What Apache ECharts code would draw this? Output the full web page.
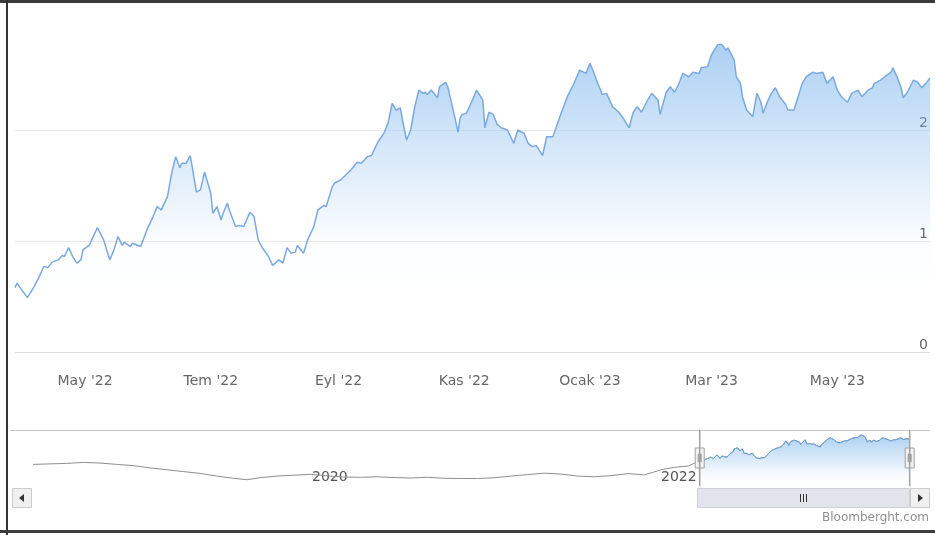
<!DOCTYPE html>
<html>
<head>
<meta charset="utf-8">
<script src="https://cdn.jsdelivr.net/npm/echarts@6/dist/echarts.min.js"></script>
<style>
  html, body { margin: 0; padding: 0; background: #fff; }
  #chart { width: 935px; height: 535px; }
</style>
</head>
<body>
<div id="chart"></div>
<script>
// navigator history (before the zoomed window)
var histDates = ['2018-06-04','2018-07-09','2018-08-13','2018-09-17','2018-10-22','2018-11-26','2018-12-31',
  '2019-02-04','2019-03-11','2019-04-15','2019-05-20','2019-06-24','2019-07-29','2019-08-26','2019-09-23',
  '2019-10-28','2019-12-02','2020-01-06','2020-02-10','2020-03-16','2020-04-20','2020-05-25','2020-06-29',
  '2020-08-03','2020-09-07','2020-10-12','2020-11-16','2020-12-21','2021-01-25','2021-03-01','2021-04-05',
  '2021-05-10','2021-06-14','2021-07-19','2021-08-23','2021-09-27','2021-11-01','2021-12-06','2022-01-10',
  '2022-02-07','2022-03-07','2022-03-21'];
var histValues = [0.34,0.38,0.42,0.50,0.45,0.34,0.24,
  0.05,-0.10,-0.25,-0.40,-0.62,-0.80,-0.92,-0.75,
  -0.62,-0.55,-0.48,-0.60,-0.70,-0.72,-0.68,-0.74,
  -0.78,-0.72,-0.80,-0.82,-0.82,-0.76,-0.62,-0.50,
  -0.38,-0.46,-0.62,-0.68,-0.58,-0.42,-0.52,-0.10,
  0.10,0.20,0.45];

// zoomed window
var dates = ['2022-03-28','2022-03-29','2022-04-01','2022-04-03','2022-04-06','2022-04-08','2022-04-11','2022-04-13',
  '2022-04-15','2022-04-18','2022-04-20','2022-04-21','2022-04-23','2022-04-25','2022-04-27','2022-04-29',
  '2022-04-30','2022-05-03','2022-05-07','2022-05-10','2022-05-13','2022-05-15','2022-05-17','2022-05-19',
  '2022-05-20','2022-05-23','2022-05-24','2022-05-28','2022-05-31','2022-06-03','2022-06-05','2022-06-07',
  '2022-06-10','2022-06-12','2022-06-14','2022-06-16','2022-06-17','2022-06-19','2022-06-21','2022-06-22',
  '2022-06-24','2022-06-26','2022-06-28','2022-07-01','2022-07-02','2022-07-04','2022-07-06','2022-07-07',
  '2022-07-09','2022-07-10','2022-07-13','2022-07-15','2022-07-17','2022-07-20','2022-07-22','2022-07-24',
  '2022-07-26','2022-07-29','2022-07-31','2022-08-03','2022-08-05','2022-08-07','2022-08-09','2022-08-11',
  '2022-08-12','2022-08-15','2022-08-17','2022-08-20','2022-08-22','2022-08-25','2022-08-26','2022-08-29',
  '2022-08-30','2022-09-02','2022-09-07','2022-09-10','2022-09-12','2022-09-15','2022-09-17','2022-09-20',
  '2022-09-23','2022-09-25','2022-09-27','2022-09-29','2022-10-01','2022-10-02','2022-10-04','2022-10-06',
  '2022-10-08','2022-10-10','2022-10-12','2022-10-13','2022-10-14','2022-10-16','2022-10-19','2022-10-20',
  '2022-10-23','2022-10-24','2022-10-27','2022-10-29','2022-10-30','2022-10-31','2022-11-02','2022-11-05',
  '2022-11-07','2022-11-10','2022-11-11','2022-11-13','2022-11-15','2022-11-17','2022-11-19','2022-11-22',
  '2022-11-25','2022-11-27','2022-11-30','2022-12-02','2022-12-04','2022-12-06','2022-12-09','2022-12-11',
  '2022-12-14','2022-12-18','2022-12-21','2022-12-24','2022-12-27','2022-12-30','2023-01-01','2023-01-03',
  '2023-01-05','2023-01-07','2023-01-09','2023-01-12','2023-01-15','2023-01-17','2023-01-20','2023-01-22',
  '2023-01-24','2023-01-26','2023-01-29','2023-01-31','2023-02-03','2023-02-04','2023-02-07','2023-02-09',
  '2023-02-11','2023-02-13','2023-02-15','2023-02-18','2023-02-20','2023-02-23','2023-02-24','2023-02-27',
  '2023-03-01','2023-03-04','2023-03-06','2023-03-08','2023-03-09','2023-03-12','2023-03-13','2023-03-15',
  '2023-03-16','2023-03-18','2023-03-21','2023-03-23','2023-03-25','2023-03-26','2023-03-28','2023-03-30',
  '2023-04-01','2023-04-03','2023-04-06','2023-04-07','2023-04-10','2023-04-12','2023-04-14','2023-04-16',
  '2023-04-19','2023-04-21','2023-04-24','2023-04-26','2023-04-29','2023-05-01','2023-05-03','2023-05-06',
  '2023-05-08','2023-05-11','2023-05-13','2023-05-16','2023-05-18','2023-05-19','2023-05-22','2023-05-24',
  '2023-05-27','2023-05-28','2023-05-30','2023-06-01','2023-06-02','2023-06-04','2023-06-07','2023-06-09',
  '2023-06-11','2023-06-13','2023-06-15'];
var values = [0.58,0.62,0.54,0.49,0.58,0.65,0.77,0.76,
  0.81,0.83,0.87,0.86,0.94,0.86,0.80,0.83,
  0.92,0.96,1.12,1.01,0.83,0.92,1.04,0.96,
  0.99,0.95,0.98,0.95,1.10,1.22,1.31,1.28,
  1.40,1.61,1.76,1.66,1.70,1.70,1.77,1.67,
  1.44,1.46,1.62,1.43,1.25,1.31,1.19,1.25,
  1.34,1.28,1.13,1.14,1.13,1.26,1.22,1.01,
  0.94,0.86,0.78,0.83,0.80,0.94,0.89,0.90,
  0.96,0.89,1.01,1.13,1.28,1.32,1.31,1.49,
  1.52,1.55,1.64,1.71,1.70,1.76,1.77,1.89,
  1.97,2.06,2.24,2.18,2.20,2.09,1.91,2.00,
  2.21,2.36,2.33,2.34,2.32,2.36,2.29,2.39,
  2.43,2.39,2.15,1.98,2.11,2.14,2.15,2.27,
  2.36,2.27,2.02,2.16,2.14,2.05,2.02,2.00,
  1.88,2.00,1.97,1.88,1.85,1.86,1.77,1.94,
  1.94,2.15,2.30,2.41,2.54,2.51,2.60,2.51,
  2.41,2.32,2.33,2.21,2.16,2.11,2.02,2.16,
  2.21,2.16,2.27,2.33,2.27,2.14,2.34,2.39,
  2.34,2.41,2.51,2.48,2.52,2.51,2.56,2.57,
  2.68,2.77,2.77,2.72,2.74,2.63,2.48,2.42,
  2.30,2.18,2.12,2.33,2.25,2.15,2.25,2.33,
  2.38,2.30,2.23,2.18,2.18,2.30,2.42,2.48,
  2.52,2.51,2.52,2.42,2.48,2.36,2.30,2.25,
  2.33,2.36,2.30,2.36,2.38,2.42,2.45,2.48,
  2.52,2.56,2.48,2.38,2.29,2.34,2.45,2.43,
  2.38,2.42,2.47];

var tickDates = ['2022-05-01','2022-07-01','2022-09-01','2022-11-01','2023-01-01','2023-03-01','2023-05-01'];
var tickLabels = ["May '22","Tem '22","Eyl '22","Kas '22","Ocak '23","Mar '23","May '23"];
var navTickDates = ['2020-01-01','2022-01-01'];
var navTickLabels = ['2020','2022'];

function parseDay(s) {
  var p = s.split('-');
  return Date.UTC(+p[0], +p[1] - 1, +p[2]);
}
function pairs(ds, vs) {
  return ds.map(function (d, i) { return [parseDay(d), vs[i]]; });
}
function labelFor(times, labels) {
  return function (v) {
    for (var i = 0; i < times.length; i++) {
      if (Math.abs(times[i] - v) < 3600000 * 12) return labels[i];
    }
    return '';
  };
}

var windowData = pairs(dates, values);
var allData = pairs(histDates, histValues).concat(windowData);
var tickTimes = tickDates.map(parseDay);
var navTickTimes = navTickDates.map(parseDay);

var chart = echarts.init(document.getElementById('chart'), null, { renderer: 'canvas' });

var option = {
  animation: false,
  backgroundColor: '#fff',
  textStyle: { fontFamily: 'DejaVu Sans' },
  grid: [
    { left: 15, right: 5, top: 19, bottom: 183 },
    { left: 33, right: 25, top: 432, height: 56 }
  ],
  xAxis: [{
    // dates as ms timestamps on a value axis
    type: 'value',
    gridIndex: 0,
    min: 'dataMin',
    max: 'dataMax',
    axisLine: { show: false },
    axisTick: { show: false },
    splitLine: { show: false },
    axisLabel: {
      customValues: tickTimes,
      formatter: labelFor(tickTimes, tickLabels),
      color: '#666',
      fontSize: 14,
      margin: 22
    }
  }, {
    type: 'value',
    gridIndex: 1,
    min: allData[0][0],
    max: allData[allData.length - 1][0],
    axisLine: { show: false },
    axisTick: { show: false },
    splitLine: { show: false },
    axisLabel: {
      inside: true,
      customValues: navTickTimes,
      formatter: labelFor(navTickTimes, navTickLabels),
      align: 'left',
      padding: [0, 0, 0, 4],
      color: '#555',
      fontSize: 14,
      margin: 4
    }
  }],
  yAxis: [{
    type: 'value',
    gridIndex: 0,
    position: 'right',
    min: 0,
    max: 3,
    interval: 1,
    axisLine: { show: false },
    axisTick: { show: false },
    axisLabel: {
      inside: true,
      verticalAlign: 'bottom',
      showMaxLabel: false,
      color: '#666',
      fontSize: 14,
      margin: 2
    },
    splitLine: {
      lineStyle: { color: ['#dedede', '#e8e8e8', '#ececec', 'rgba(0,0,0,0)'], width: 1 }
    }
  }, {
    type: 'value',
    gridIndex: 1,
    min: -1.6,
    max: 3.0,
    show: false
  }],
  dataZoom: [{
    type: 'slider',
    xAxisIndex: 0,
    filterMode: 'filter',
    startValue: windowData[0][0],
    endValue: windowData[windowData.length - 1][0],
    left: 33,
    right: 25,
    top: 430,
    height: 56,
    showDataShadow: false,
    showDetail: false,
    brushSelect: false,
    backgroundColor: 'rgba(0,0,0,0)',
    borderColor: 'rgba(0,0,0,0)',
    fillerColor: 'rgba(255,255,255,0)',
    handleIcon: 'path://M4.25,0h0.5v56h-0.5z M0,18h9v20h-9z M3,24h0.6v8h-0.6z M5.4,24h0.6v8h-0.6z',
    handleSize: 56,
    handleStyle: { color: '#f2f2f2', borderColor: '#a0a0a0', borderWidth: 1 },
    emphasis: { handleStyle: { color: '#f2f2f2', borderColor: '#a0a0a0', borderWidth: 1 } },
    moveHandleSize: 0,
    moveHandleStyle: { opacity: 0 },
    z: 10
  }],
  series: [{
    type: 'line',
    xAxisIndex: 0,
    yAxisIndex: 0,
    data: allData,
    showSymbol: false,
    lineStyle: { color: '#7aa9e0', width: 1.5 },
    itemStyle: { color: '#7aa9e0' },
    areaStyle: {
      color: new echarts.graphic.LinearGradient(0, 0, 0, 1, [
        { offset: 0, color: 'rgba(124,181,236,0.9)' },
        { offset: 0.3, color: 'rgba(124,181,236,0.5)' },
        { offset: 0.65, color: 'rgba(124,181,236,0.03)' },
        { offset: 1, color: 'rgba(255,255,255,0)' }
      ])
    }
  }, {
    type: 'line',
    xAxisIndex: 1,
    yAxisIndex: 1,
    data: allData,
    showSymbol: false,
    silent: true,
    lineStyle: { color: '#8e8e8e', width: 1 }
  }, {
    type: 'line',
    xAxisIndex: 1,
    yAxisIndex: 1,
    data: windowData,
    showSymbol: false,
    silent: true,
    lineStyle: { color: '#6aa3e2', width: 1 },
    areaStyle: {
      origin: 'start',
      color: new echarts.graphic.LinearGradient(0, 0, 0, 1, [
        { offset: 0, color: 'rgba(124,181,236,0.9)' },
        { offset: 0.6, color: 'rgba(124,181,236,0.25)' },
        { offset: 1, color: 'rgba(255,255,255,0)' }
      ])
    }
  }],
  graphic: [
    // outer frame of the screenshot
    { type: 'rect', shape: { x: 0, y: 0, width: 935, height: 3 }, style: { fill: '#3c3c3c' }, z: 100 },
    { type: 'rect', shape: { x: 6, y: 0, width: 2, height: 535 }, style: { fill: '#333' }, z: 100 },
    { type: 'rect', shape: { x: 0, y: 530, width: 935, height: 3 }, style: { fill: '#3c3c3c' }, z: 100 },
    // navigator top border
    { type: 'line', shape: { x1: 10, y1: 430.5, x2: 930, y2: 430.5 }, style: { stroke: '#c8c8c8', lineWidth: 1 } },
    // scrollbar
    { type: 'rect', shape: { x: 12.5, y: 488.5, width: 19, height: 19 }, style: { fill: '#f0f0f0', stroke: '#cccccc' } },
    { type: 'polygon', shape: { points: [[24, 494], [24, 502], [19, 498]] }, style: { fill: '#333' } },
    { type: 'rect', shape: { x: 697.5, y: 488.5, width: 212, height: 19 }, style: { fill: '#e3e3eb', stroke: '#cfcfd8' } },
    { type: 'line', shape: { x1: 800.5, y1: 494, x2: 800.5, y2: 502 }, style: { stroke: '#333' } },
    { type: 'line', shape: { x1: 803.5, y1: 494, x2: 803.5, y2: 502 }, style: { stroke: '#333' } },
    { type: 'line', shape: { x1: 806.5, y1: 494, x2: 806.5, y2: 502 }, style: { stroke: '#333' } },
    { type: 'rect', shape: { x: 910.5, y: 488.5, width: 19, height: 19 }, style: { fill: '#f0f0f0', stroke: '#cccccc' } },
    { type: 'polygon', shape: { points: [[918, 494], [918, 502], [923, 498]] }, style: { fill: '#333' } },
    // credits
    {
      type: 'text', right: 6, top: 512,
      style: { text: 'Bloomberght.com', fill: '#909090', font: '12px "DejaVu Sans"' }
    }
  ]
};

chart.setOption(option);
</script>
</body>
</html>
